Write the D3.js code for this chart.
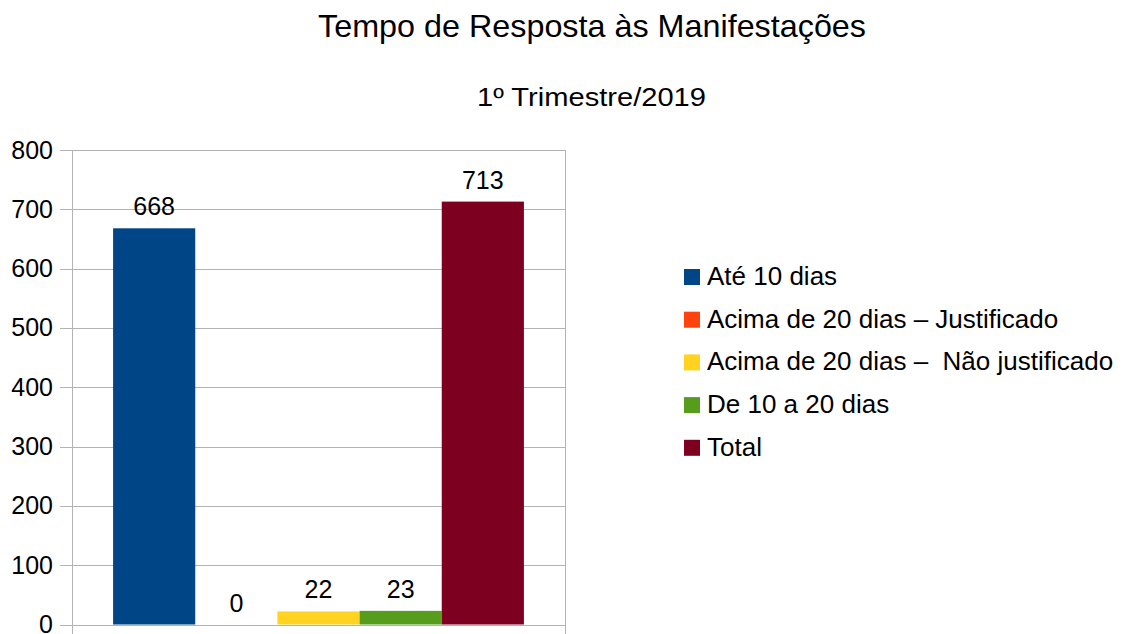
<!DOCTYPE html>
<html><head><meta charset="utf-8">
<script src="https://cdn.jsdelivr.net/npm/d3@7"></script>
<style>body{margin:0;background:#fff}svg{display:block;font-family:"Liberation Sans",Arial,sans-serif}</style>
</head><body>
<svg id="c" width="1124" height="634"></svg>
<script>
const series = ["Até 10 dias","Acima de 20 dias – Justificado","Acima de 20 dias –  Não justificado","De 10 a 20 dias","Total"];
const values = [668, 0, 22, 23, 713];
const colors = ["#004586","#ff420e","#ffd320","#579d1c","#7e0021"];
const yTicks = [0,100,200,300,400,500,600,700,800];
const title = "Tempo de Resposta às Manifestações";
const subtitle = "1º Trimestre/2019";

const svg = d3.select("#c");
const L = 72, R = 565, T = 150, B = 624.5;
const x = d3.scaleBand().domain(series).range([L, R]).paddingInner(0).paddingOuter(0.5);
const y = d3.scaleLinear().domain([0, 800]).range([B, T]);

svg.append("text").attr("x", 592).attr("y", 37).attr("text-anchor","middle")
  .attr("font-size", 32).attr("fill","#000").attr("textLength", 548).attr("lengthAdjust","spacingAndGlyphs").text(title);
svg.append("text").attr("x", 591.5).attr("y", 106).attr("text-anchor","middle")
  .attr("font-size", 26).attr("fill","#000").attr("textLength", 229).attr("lengthAdjust","spacingAndGlyphs").text(subtitle);

// gridlines
svg.append("g").selectAll("line").data(yTicks).join("line")
  .attr("x1", L - 12).attr("x2", R).attr("y1", d => Math.round(y(d)) + 0.5).attr("y2", d => Math.round(y(d)) + 0.5)
  .attr("stroke", "#b3b3b3").attr("stroke-width", 1);
// axis lines
svg.append("line").attr("x1", L + 0.5).attr("x2", L + 0.5).attr("y1", T).attr("y2", B + 10).attr("stroke","#b3b3b3");
svg.append("line").attr("x1", R + 0.5).attr("x2", R + 0.5).attr("y1", T).attr("y2", B + 10).attr("stroke","#b3b3b3");

// y labels
svg.append("g").selectAll("text").data(yTicks).join("text")
  .attr("x", L - 19).attr("y", d => y(d) + 8.5).attr("text-anchor","end")
  .attr("font-size", 25).attr("fill","#000").text(d => d);

// bars
svg.append("g").selectAll("rect").data(series).join("rect")
  .attr("x", d => x(d)).attr("width", x.bandwidth())
  .attr("y", (d,i) => y(values[i])).attr("height", (d,i) => B - y(values[i]))
  .attr("fill", (d,i) => colors[i]);

// data labels
svg.append("g").selectAll("text").data(series).join("text")
  .attr("x", d => x(d) + x.bandwidth()/2).attr("y", (d,i) => y(values[i]) - 13)
  .attr("text-anchor","middle").attr("font-size", 25).attr("fill","#000")
  .text((d,i) => values[i]);

// legend
const lg = svg.append("g").selectAll("g").data(series).join("g")
  .attr("transform", (d,i) => `translate(684, ${277 + i*42.7})`);
lg.append("rect").attr("x", 0).attr("y", -8).attr("width", 16).attr("height", 16)
  .attr("fill", (d,i) => colors[i]);
lg.append("text").attr("x", 23).attr("y", 8).attr("font-size", 26).attr("fill","#000")
  .attr("xml:space","preserve").style("white-space","pre").text(d => d);
</script>
</body></html>
